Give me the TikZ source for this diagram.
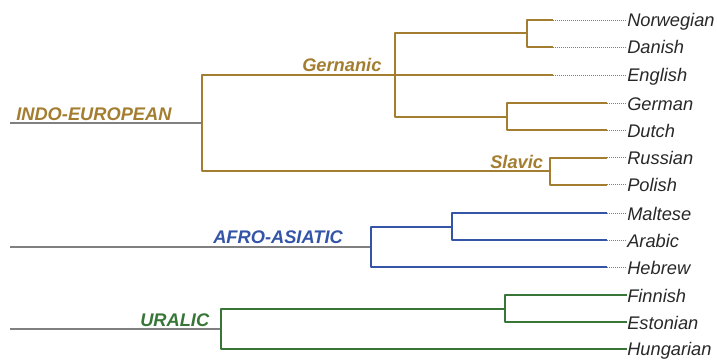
\documentclass[tikz,border=0pt]{standalone}
\usepackage{fontspec}
\setmainfont{Liberation Sans}
\usetikzlibrary{positioning}
\definecolor{indoeu}{RGB}{164,126,48}
\definecolor{afroas}{RGB}{52,84,168}
\definecolor{uralic}{RGB}{56,118,56}
\definecolor{leaftext}{RGB}{40,40,40}

\tikzset{
  leaf/.style={anchor=west,inner sep=0pt,text=leaftext,
    text height=10.5pt,text depth=0pt,
    font=\itshape\fontsize{13.7}{16}\selectfont},
  family/.style={anchor=base west,inner sep=0pt,
    font=\bfseries\itshape\fontsize{13.7}{16}\selectfont},
  stem/.style={draw=gray,line width=1.1pt},
  branch/.style={line width=1.5pt,line join=round},
  twig/.style={draw=gray,densely dotted,line width=0.5pt}
}

\begin{document}
\begin{tikzpicture}[x=0.75pt,y=-0.75pt]
\useasboundingbox (0,0) rectangle (717,360);

% leaves
\node[leaf] (nor) at (627,20) {Norwegian};
\node[leaf] (dan) at (627,47) {Danish};
\node[leaf] (eng) at (627,75) {English};
\node[leaf] (ger) at (627,103) {German};
\node[leaf] (dut) at (627,130) {Dutch};
\node[leaf] (rus) at (627,157.5) {Russian};
\node[leaf] (pol) at (627,184.5) {Polish};
\node[leaf] (mal) at (627,213) {Maltese};
\node[leaf] (ara) at (627,240) {Arabic};
\node[leaf] (heb) at (627,267) {Hebrew};
\node[leaf] (fin) at (627,295) {Finnish};
\node[leaf] (est) at (627,322) {Estonian};
\node[leaf] (hun) at (627,348.5) {Hungarian};

% family labels
\node[family,text=indoeu] (ielab) at (16,120) {INDO-EUROPEAN};
\node[family,text=indoeu] (gmlab) at (302,71) {Gernanic};
\node[family,text=indoeu] (sllab) at (490,168) {Slavic};
\node[family,text=afroas] (aalab) at (213,243) {AFRO-ASIATIC};
\node[family,text=uralic] (urlab) at (140,326) {URALIC};

% solid ends of the branches
\coordinate (nor-e) at (553,20);
\coordinate (dan-e) at (553,47);
\coordinate (eng-e) at (553,75);
\coordinate (ger-e) at (607,103);
\coordinate (dut-e) at (607,130);
\coordinate (rus-e) at (607,157.5);
\coordinate (pol-e) at (607,184.5);
\coordinate (mal-e) at (607,213);
\coordinate (ara-e) at (607,240);
\coordinate (heb-e) at (607,267);

% junctions
\coordinate (ieroot) at (10,123);
\coordinate (ie) at (202,123);
\coordinate (nd) at (527,33.5);
\coordinate (gd) at (507,116.5);
\coordinate (gm) at (395,75);
\coordinate (sl) at (550,171);
\coordinate (aaroot) at (10,247);
\coordinate (aa) at (371,247);
\coordinate (ma) at (452,226.5);
\coordinate (urroot) at (10,329);
\coordinate (ur) at (221,329);
\coordinate (fe) at (505,308.5);

% dotted twigs
\foreach \l in {nor,dan,eng,ger,dut,rus,pol,mal,ara,heb}
  \draw[twig] (\l-e) -- (\l.west);

% indo-european
\draw[stem] (ieroot) -- (ie);
\draw[branch,indoeu] (nor-e) -| (nd) |- (dan-e);
\draw[branch,indoeu] (ger-e) -| (gd) |- (dut-e);
\draw[branch,indoeu] (nd) -| (gm) |- (gd);
\draw[branch,indoeu] (eng-e) -| (ie) |- (sl);
\draw[branch,indoeu] (rus-e) -| (sl) |- (pol-e);

% afro-asiatic
\draw[stem] (aaroot) -- (aa);
\draw[branch,afroas] (mal-e) -| (ma) |- (ara-e);
\draw[branch,afroas] (ma) -| (aa) |- (heb-e);

% uralic
\draw[stem] (urroot) -- (ur);
\draw[branch,uralic] (fin.west) -| (fe) |- (est.west);
\draw[branch,uralic] (fe) -| (ur) |- (hun.west);
\end{tikzpicture}
\end{document}
